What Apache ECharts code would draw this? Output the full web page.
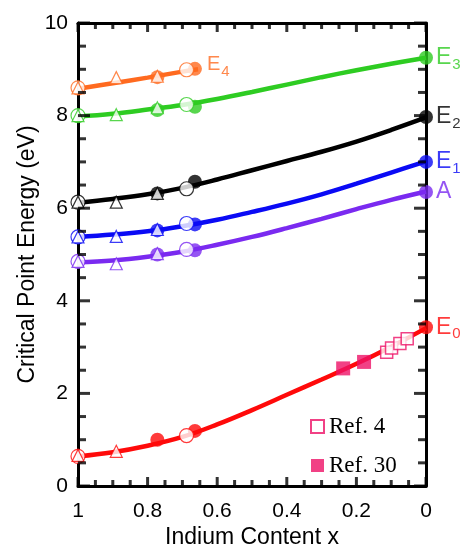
<!DOCTYPE html>
<html><head><meta charset="utf-8">
<script src="https://cdn.jsdelivr.net/npm/echarts@6/dist/echarts.min.js"></script>
<style>html,body{margin:0;padding:0;background:#fff}#c{width:468px;height:548px}</style>
</head><body><div id="c"></div>
<script>
// fitted curves
const xFit = [1, 0.9, 0.8, 0.7, 0.6, 0.5, 0.4, 0.3, 0.2, 0.1, 0];
const fitE0 = [0.64, 0.73, 0.87, 1.06, 1.33, 1.64, 1.97, 2.30, 2.64, 3.01, 3.41];
const fitA  = [4.83, 4.87, 4.95, 5.06, 5.21, 5.38, 5.57, 5.77, 5.98, 6.18, 6.36];
const fitE1 = [5.38, 5.43, 5.50, 5.61, 5.75, 5.92, 6.10, 6.30, 6.53, 6.77, 7.01];
const fitE2 = [6.12, 6.20, 6.30, 6.44, 6.62, 6.82, 7.02, 7.22, 7.44, 7.69, 7.96];
const fitE3 = [7.98, 8.04, 8.13, 8.23, 8.36, 8.51, 8.67, 8.83, 8.98, 9.12, 9.25];
const xFitE4 = [1, 0.9, 0.8, 0.7, 0.655];
const fitE4 = [8.58, 8.70, 8.82, 8.95, 9.00];

// measured points (x positions shared by all bands)
const xOpen = [1, 0.688];
const xTri = [1, 0.89, 0.772];
const xFilled = [0.772, 0.664, 0];

const openE0 = [0.64, 1.09], triE0 = [0.66, 0.75, null], filledE0 = [1.00, 1.19, 3.43];
const openA  = [4.85, 5.11], triA  = [4.85, 4.80, 5.02], filledA  = [5.00, 5.09, 6.35];
const openE1 = [5.38, 5.67], triE1 = [5.38, 5.39, 5.54], filledE1 = [5.52, 5.65, 7.00];
const openE2 = [6.13, 6.42], triE2 = [6.13, 6.13, 6.32], filledE2 = [6.32, 6.57, 7.97];
const openE3 = [8.00, 8.24], triE3 = [8.00, 8.02, 8.17], filledE3 = [8.12, 8.19, 9.25];
const openE4 = [8.60, 8.99], triE4 = [8.60, 8.82, 8.85], filledE4 = [8.83, 9.01, null];

// reference data
const xRef4 = [0.113, 0.099, 0.075, 0.054], yRef4 = [2.89, 2.98, 3.08, 3.18];
const xRef30 = [0.238, 0.178], yRef30 = [2.54, 2.68];

// axis ticks
const xTicks = ['1', '0.8', '0.6', '0.4', '0.2', '0'];
const xMajorTicks = [0, 0.2, 0.4, 0.6, 0.8, 1];
const xMinorTicks = [0.05, 0.1, 0.15, 0.25, 0.3, 0.35, 0.45, 0.5, 0.55, 0.65, 0.7, 0.75, 0.85, 0.9, 0.95];
const yMajorTicks = [0, 2, 4, 6, 8, 10];
const yMinorTicks = [0.5, 1, 1.5, 2.5, 3, 3.5, 4.5, 5, 5.5, 6.5, 7, 7.5, 8.5, 9, 9.5];

const bands = [
  {main: 'E', sub: '0', color: '#ff0a0a', fx: xFit, fit: fitE0, open: openE0, tri: triE0, filled: filledE0, labelIdx: 2, lsize: 23, off: [0, 0]},
  {main: 'A', sub: '',  color: '#7a2af0', fx: xFit, fit: fitA,  open: openA,  tri: triA,  filled: filledA,  labelIdx: 2, lsize: 23, off: [0, 0]},
  {main: 'E', sub: '1', color: '#0a0af5', fx: xFit, fit: fitE1, open: openE1, tri: triE1, filled: filledE1, labelIdx: 2, lsize: 23, off: [0, 0]},
  {main: 'E', sub: '2', color: '#000000', fx: xFit, fit: fitE2, open: openE2, tri: triE2, filled: filledE2, labelIdx: 2, lsize: 23, off: [0, 0]},
  {main: 'E', sub: '3', color: '#2ecc22', fx: xFit, fit: fitE3, open: openE3, tri: triE3, filled: filledE3, labelIdx: 2, lsize: 23, off: [0, 0]},
  {main: 'E', sub: '4', color: '#ff6a1f', fx: xFitE4, fit: fitE4, open: openE4, tri: triE4, filled: filledE4, labelIdx: 1, lsize: 20, off: [2, -4]}
];

const pairs = (xs, ys) => xs.map((x, i) => [x, ys[i]]).filter(p => p[1] !== null);

const lineSeries = [], filledSeries = [], openSeries = [], triSeries = [];
bands.forEach(b => {
  lineSeries.push({type: 'line', data: pairs(b.fx, b.fit), smooth: 0.4, symbol: 'none',
    lineStyle: {color: b.color, width: 4.5}, z: 2, silent: true});
  const fdata = xFilled.map((x, i) => {
    if (b.filled[i] === null) return null;
    const item = {value: [x, b.filled[i]]};
    if (i === b.labelIdx) {
      item.label = {show: true, position: 'right', distance: 3, offset: b.off,
        formatter: b.sub ? '{m|' + b.main + '}{s|' + b.sub + '}' : '{m|' + b.main + '}',
        rich: {
          m: {fontSize: b.lsize, color: b.color, fontFamily: 'Liberation Sans'},
          s: {fontSize: 15, color: b.color, fontFamily: 'Liberation Sans', padding: [14, 0, 0, 1]}
        }};
    }
    return item;
  }).filter(d => d);
  filledSeries.push({type: 'scatter', data: fdata, symbol: 'circle', symbolSize: 14,
    itemStyle: {color: b.color}, z: 3});
  openSeries.push({type: 'scatter', data: pairs(xOpen, b.open), symbol: 'circle', symbolSize: 14,
    itemStyle: {color: '#ffffff', borderColor: b.color, borderWidth: 1.2}, z: 4});
  triSeries.push({type: 'scatter', data: pairs(xTri, b.tri), symbol: 'triangle', symbolSize: 12,
    itemStyle: {color: '#ffffff', borderColor: b.color, borderWidth: 1.2}, z: 5});
});

const refColor = '#ee1166';
const refSeries = [
  {name: 'Ref. 4', type: 'scatter', data: pairs(xRef4, yRef4), symbol: 'rect', symbolSize: 12,
    itemStyle: {color: '#ffffff', borderColor: refColor, borderWidth: 1.5}, z: 6},
  {name: 'Ref. 30', type: 'scatter', data: pairs(xRef30, yRef30), symbol: 'rect', symbolSize: 14,
    itemStyle: {color: refColor}, z: 6}
];

// inward tick marks on all four sides: thin rects placed through the axis scales
function tickMarks(data, size, offset) {
  return {type: 'scatter', silent: true, clip: false, z: 7, data: data,
    symbol: 'rect', symbolSize: size, symbolOffset: offset,
    itemStyle: {color: '#000'}, emphasis: {disabled: true}};
}
const tickSeries = [
  tickMarks(xMajorTicks.map(v => [v, 0]), [3, 9], [0, -4.5]),
  tickMarks(xMajorTicks.map(v => [v, 10]), [3, 9], [0, 4.5]),
  tickMarks(xMinorTicks.map(v => [v, 0]), [3, 6], [0, -3]),
  tickMarks(xMinorTicks.map(v => [v, 10]), [3, 6], [0, 3]),
  tickMarks(yMajorTicks.map(v => [1, v]), [12, 3], [6, 0]),
  tickMarks(yMajorTicks.map(v => [0, v]), [12, 3], [-6, 0]),
  tickMarks(yMinorTicks.map(v => [1, v]), [8, 3], [4, 0]),
  tickMarks(yMinorTicks.map(v => [0, v]), [8, 3], [-4, 0])
];

const lineAxis = {show: true, onZero: false, lineStyle: {color: '#000', width: 3}};

const chart = echarts.init(document.getElementById('c'), null, {renderer: 'canvas'});
chart.setOption({
  animation: false,
  backgroundColor: '#fff',
  grid: {left: 78, right: 42, top: 23, bottom: 62, containLabel: false, outerBoundsMode: 'none'},
  legend: {
    data: ['Ref. 4', 'Ref. 30'], orient: 'vertical', left: 305, top: 410,
    itemWidth: 13, itemHeight: 13, itemGap: 16,
    textStyle: {fontFamily: 'Liberation Serif', fontSize: 23, color: '#000'}
  },
  xAxis: [
    {type: 'value', min: 0, max: 1, interval: 0.2, inverse: true, position: 'bottom',
      name: 'Indium Content x', nameLocation: 'middle', nameGap: 40, nameMoveOverlap: false,
      nameTextStyle: {fontFamily: 'Liberation Sans', fontSize: 23, color: '#000'},
      axisLine: lineAxis, axisTick: {show: false}, splitLine: {show: false},
      axisLabel: {fontFamily: 'Liberation Sans', fontSize: 21, color: '#000', margin: 15,
        formatter: v => xTicks[Math.round((1 - v) / 0.2)]}},
    {type: 'value', min: 0, max: 1, interval: 0.2, inverse: true, position: 'top',
      axisLine: lineAxis, axisTick: {show: false}, axisLabel: {show: false}, splitLine: {show: false}}
  ],
  yAxis: [
    {type: 'value', min: 0, max: 10, interval: 2, position: 'left',
      name: 'Critical Point Energy (eV)', nameLocation: 'middle', nameGap: 39, nameMoveOverlap: false,
      nameTextStyle: {fontFamily: 'Liberation Sans', fontSize: 23, color: '#000'},
      axisLine: lineAxis, axisTick: {show: false}, splitLine: {show: false},
      axisLabel: {fontFamily: 'Liberation Sans', fontSize: 21, color: '#000', margin: 10}},
    {type: 'value', min: 0, max: 10, interval: 2, position: 'right',
      axisLine: lineAxis, axisTick: {show: false}, axisLabel: {show: false}, splitLine: {show: false}}
  ],
  series: [].concat(lineSeries, filledSeries, openSeries, triSeries, refSeries, tickSeries)
});
</script></body></html>
